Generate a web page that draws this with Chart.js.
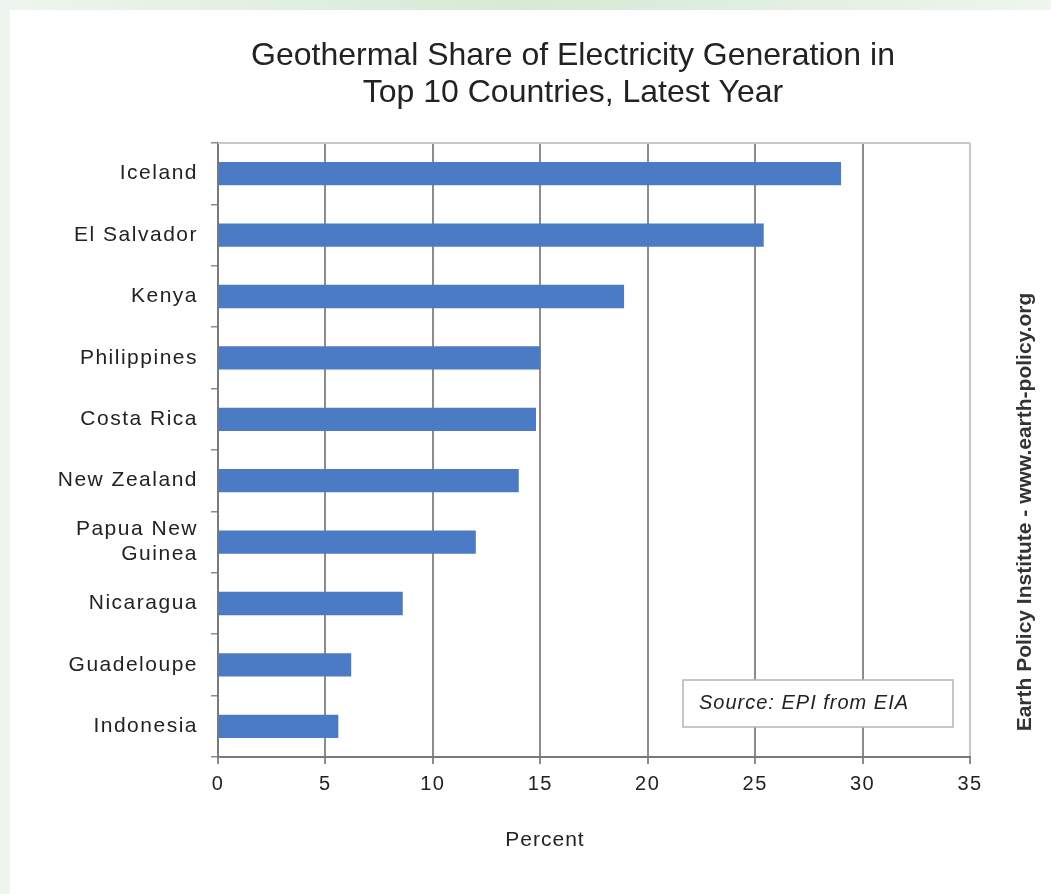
<!DOCTYPE html>
<html>
<head>
<meta charset="utf-8">
<script src="https://cdn.jsdelivr.net/npm/chart.js@4.4.2/dist/chart.umd.min.js"></script>
<style>
  html, body { margin: 0; padding: 0; background: #e6f1e6; }
  #wrap { position: relative; width: 1051px; height: 894px; }
</style>
</head>
<body>
<div id="wrap"><canvas id="chart" width="1051" height="894"></canvas></div>
<script>
const countries = ['Iceland', 'El Salvador', 'Kenya', 'Philippines', 'Costa Rica', 'New Zealand', ['Papua New', 'Guinea'], 'Nicaragua', 'Guadeloupe', 'Indonesia'];
const sharePercent = [29, 25.4, 18.9, 15, 14.8, 14, 12, 8.6, 6.2, 5.6];
const titleLines = ['Geothermal Share of Electricity Generation in', 'Top 10 Countries, Latest Year'];
const xAxisTitle = 'Percent';
const sourceNote = 'Source: EPI from EIA';
const creditText = 'Earth Policy Institute - www.earth-policy.org';

const FONT = '"Liberation Sans", Arial, sans-serif';

// page background, title, frame line, source box and side credit
const decorations = {
  id: 'decorations',
  beforeDraw(chart) {
    const ctx = chart.ctx;
    ctx.save();
    const grad = ctx.createLinearGradient(0, 0, chart.width, 0);
    grad.addColorStop(0, '#eef6ee');
    grad.addColorStop(0.5, '#d6e9d6');
    grad.addColorStop(1, '#eef6ee');
    ctx.fillStyle = grad;
    ctx.fillRect(0, 0, chart.width, chart.height);
    ctx.fillStyle = '#eef5ee';
    ctx.fillRect(0, 0, 10, chart.height);
    ctx.fillStyle = '#ffffff';
    ctx.fillRect(10, 10, chart.width - 10, chart.height - 10);

    ctx.fillStyle = '#222';
    ctx.font = '32px ' + FONT;
    ctx.textAlign = 'center';
    ctx.textBaseline = 'middle';
    ctx.fillText(titleLines[0], 573, 56);
    ctx.fillText(titleLines[1], 573, 93);
    ctx.restore();
    // tick labels in the original are drawn a little spaced out
    ctx.letterSpacing = '1.5px';
  },
  afterDatasetsDraw(chart) {
    const { ctx, chartArea } = chart;
    ctx.save();
    ctx.letterSpacing = '0px';
    ctx.strokeStyle = '#c8c8c8';
    ctx.lineWidth = 2;
    ctx.beginPath();
    ctx.moveTo(chartArea.left, chartArea.top);
    ctx.lineTo(chartArea.right, chartArea.top);
    ctx.stroke();

    // axis title
    ctx.fillStyle = '#222';
    ctx.font = '21px ' + FONT;
    ctx.textAlign = 'center';
    ctx.textBaseline = 'middle';
    ctx.letterSpacing = '1px';
    ctx.fillText(xAxisTitle, 545, 840);

    // source box
    const bx = chartArea.right - 287, by = chartArea.bottom - 77;
    ctx.fillStyle = '#ffffff';
    ctx.fillRect(bx, by, 270, 47);
    ctx.strokeStyle = '#b4b4b4';
    ctx.lineWidth = 1.5;
    ctx.strokeRect(bx, by, 270, 47);
    ctx.fillStyle = '#222';
    ctx.font = 'italic 20px ' + FONT;
    ctx.textAlign = 'left';
    ctx.fillText(sourceNote, bx + 16, by + 23);

    // side credit
    ctx.letterSpacing = '0px';
    ctx.translate(1025, 512);
    ctx.rotate(-Math.PI / 2);
    ctx.textAlign = 'center';
    ctx.font = 'bold 21px ' + FONT;
    ctx.fillStyle = '#333';
    ctx.fillText(creditText, 0, 0);
    ctx.restore();
  },
  afterDraw(chart) {
    chart.ctx.letterSpacing = '0px';
  }
};

new Chart(document.getElementById('chart'), {
  type: 'bar',
  data: {
    labels: countries,
    datasets: [{
      data: sharePercent,
      backgroundColor: '#4a7bc4',
      borderWidth: 0,
      barPercentage: 0.38,
      categoryPercentage: 1
    }]
  },
  options: {
    indexAxis: 'y',
    responsive: false,
    animation: false,
    layout: {
      padding: { left: 20, right: 81, top: 143, bottom: 0 }
    },
    plugins: {
      legend: { display: false },
      tooltip: { enabled: false },
      title: { display: false }
    },
    scales: {
      x: {
        min: 0,
        max: 35,
        ticks: {
          stepSize: 5,
          color: '#222',
          font: { family: FONT, size: 20 },
          padding: 8
        },
        grid: {
          color: (c) => c.tick && c.tick.value === 35 ? '#c8c8c8' : '#8c8c8c',
          lineWidth: 2,
          tickLength: 7,
          tickColor: '#8c8c8c'
        },
        border: { color: '#7a7a7a', width: 2 },
        afterFit(scale) { scale.height = 137; }
      },
      y: {
        ticks: {
          color: '#222',
          font: { family: FONT, size: 21, lineHeight: 1.2 },
          padding: 13
        },
        grid: {
          drawOnChartArea: false,
          drawTicks: true,
          tickLength: 7,
          tickColor: '#8c8c8c',
          lineWidth: 1.5
        },
        border: { color: '#7a7a7a', width: 2 },
        afterFit(scale) { scale.width = 198; }
      }
    }
  },
  plugins: [decorations]
});
</script>
</body>
</html>
